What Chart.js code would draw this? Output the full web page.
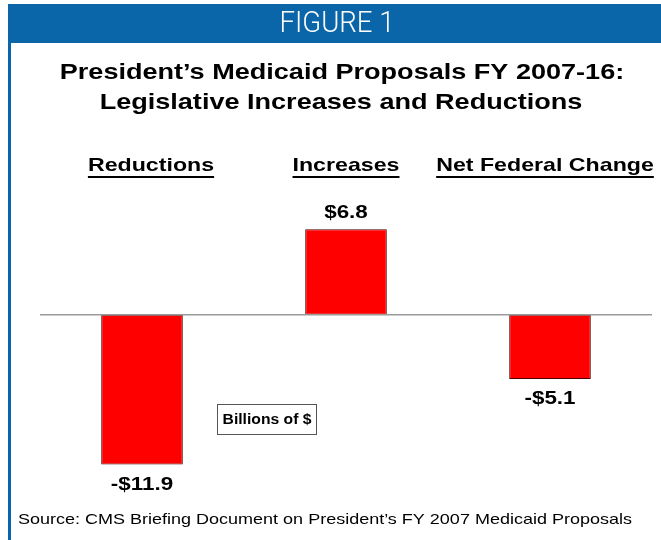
<!DOCTYPE html>
<html>
<head>
<meta charset="utf-8">
<script src="https://cdn.jsdelivr.net/npm/chart.js@4"></script>
<style>
  html, body { margin: 0; padding: 0; background: #fff; }
  #wrap { position: relative; width: 661px; height: 540px; }
</style>
</head>
<body>
<div id="wrap"><canvas id="medicaidChart" width="661" height="540"></canvas></div>
<script>
// Chart data
const categories = ['Reductions', 'Increases', 'Net Federal Change'];
const changeBillions = [-11.9, 6.8, -5.1];
const bannerText = 'FIGURE 1';
const titleLines = [
    'President\u2019s Medicaid Proposals FY 2007-16:',
    'Legislative Increases and Reductions'
];
const unitLabel = 'Billions of $';
const sourceNote = 'Source: CMS Briefing Document on President\u2019s FY 2007 Medicaid Proposals';

const BLUE = '#0B66A9';
const STRETCH = 1.22;

// Draw text widened horizontally, the way the original slide renders it
function wideText(ctx, text, x, y, font, color, stretch, align) {
    ctx.save();
    ctx.font = font;
    ctx.fillStyle = color;
    ctx.textAlign = align || 'center';
    ctx.textBaseline = 'middle';
    ctx.translate(x, y);
    ctx.scale(stretch, 1);
    ctx.fillText(text, 0, 0);
    const w = ctx.measureText(text).width * stretch;
    ctx.restore();
    return w;
}

const slideDecor = {
    id: 'slideDecor',
    beforeDraw(chart) {
        const ctx = chart.ctx;
        ctx.save();
        ctx.fillStyle = '#fff';
        ctx.fillRect(0, 0, chart.width, chart.height);
        // banner and left rule
        ctx.fillStyle = BLUE;
        ctx.fillRect(9, 4, chart.width - 9, 39);
        ctx.fillRect(8, 4, 3, chart.height - 4);
        ctx.restore();

        wideText(ctx, bannerText, 337, 24, '300 30px Roboto, "DejaVu Sans Condensed", sans-serif', '#fff', 0.92);
        wideText(ctx, titleLines[0], 342, 73, 'bold 22px "Liberation Sans", Arial, sans-serif', '#000', 1.23);
        wideText(ctx, titleLines[1], 341, 103, 'bold 22px "Liberation Sans", Arial, sans-serif', '#000', 1.23);
        wideText(ctx, sourceNote, 18, 520, '15px "Liberation Sans", Arial, sans-serif', '#000', 1.2, 'left');
    },
    afterDatasetsDraw(chart) {
        const ctx = chart.ctx;
        const x = chart.scales.x;
        const y = chart.scales.y;
        const area = chart.chartArea;
        const zero = y.getPixelForValue(0);

        // zero line
        ctx.save();
        ctx.strokeStyle = '#9a9a9a';
        ctx.lineWidth = 1.5;
        ctx.beginPath();
        ctx.moveTo(area.left, zero);
        ctx.lineTo(area.right, zero);
        ctx.stroke();
        ctx.restore();

        // underlined column headings
        const headShift = [9, 0, -5];
        categories.forEach((name, i) => {
            const cx = x.getPixelForValue(i) + headShift[i];
            const cy = 166;
            const w = wideText(ctx, name, cx, cy, 'bold 19px "Liberation Sans", Arial, sans-serif', '#000', STRETCH);
            ctx.fillStyle = '#000';
            ctx.fillRect(cx - w / 2, cy + 10, w, 2);
        });

        // value labels at the end of each bar
        const meta = chart.getDatasetMeta(0);
        meta.data.forEach((bar, i) => {
            const v = changeBillions[i];
            const text = (v < 0 ? '-$' : '$') + Math.abs(v).toFixed(1);
            const ly = v < 0 ? bar.y + 20 : bar.y - 17;
            wideText(ctx, text, bar.x, ly, 'bold 19px "Liberation Sans", Arial, sans-serif', '#000', 1.18);
        });

        // units box
        ctx.save();
        ctx.fillStyle = '#fff';
        ctx.strokeStyle = '#555';
        ctx.lineWidth = 1;
        ctx.fillRect(217.5, 404.5, 99, 30);
        ctx.strokeRect(217.5, 404.5, 99, 30);
        ctx.restore();
        wideText(ctx, unitLabel, 267, 420, 'bold 14px "Liberation Sans", Arial, sans-serif', '#000', 1.12);
    }
};

const ctx = document.getElementById('medicaidChart').getContext('2d');
const medicaidChart = new Chart(ctx, {
    type: 'bar',
    data: {
        labels: categories,
        datasets: [{
            data: changeBillions,
            backgroundColor: '#FF0000',
            borderColor: '#4a0000',
            borderWidth: 1,
            borderSkipped: false,
            categoryPercentage: 1,
            barPercentage: 0.4
        }]
    },
    options: {
        responsive: false,
        animation: false,
        devicePixelRatio: 1,
        layout: {
            padding: { left: 40, right: 9, top: 189, bottom: 49 }
        },
        scales: {
            x: { display: false },
            y: { display: false, min: -14, max: 10 }
        },
        plugins: {
            legend: { display: false },
            tooltip: { enabled: false }
        }
    },
    plugins: [slideDecor]
});
</script>
</body>
</html>
